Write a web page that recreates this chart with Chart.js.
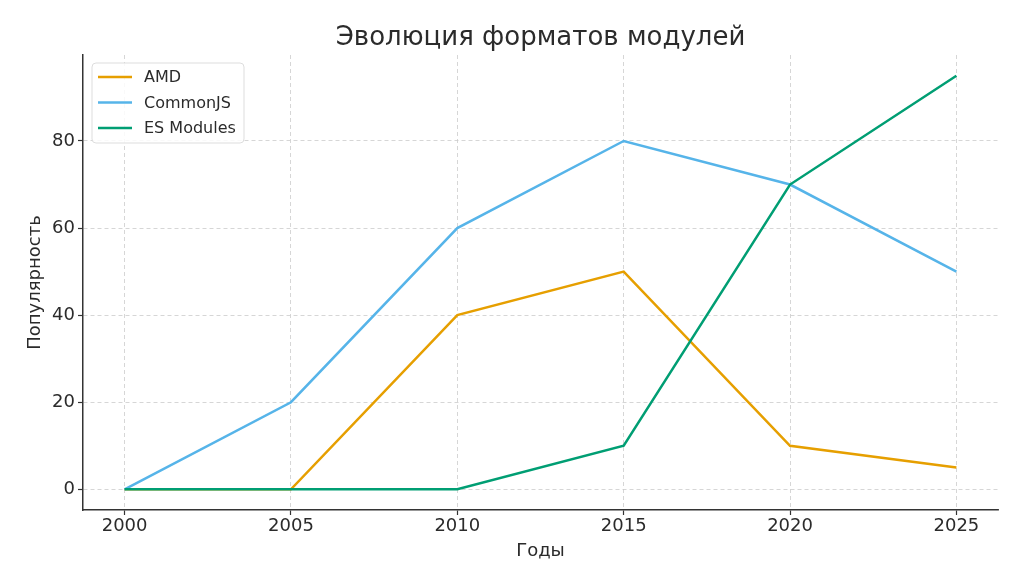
<!DOCTYPE html>
<html>
<head>
<meta charset="utf-8">
<script src="https://cdn.jsdelivr.net/npm/chart.js@4"></script>
<style>
html,body{margin:0;padding:0;background:#fff;}
#wrap{width:1024px;height:588px;position:relative;}
</style>
</head>
<body>
<div id="wrap"><canvas id="c" width="1024" height="588"></canvas></div>
<script>
const years = [2000, 2005, 2010, 2015, 2020, 2025];
const amd = [0, 0, 40, 50, 10, 5];
const commonjs = [0, 20, 60, 80, 70, 50];
const esModules = [0, 0, 0, 10, 70, 95];
const seriesNames = ['AMD', 'CommonJS', 'ES Modules'];
const xTicks = [2000, 2005, 2010, 2015, 2020, 2025];
const yTicks = [0, 20, 40, 60, 80];
const titleText = 'Эволюция форматов модулей';
const xLabel = 'Годы';
const yLabel = 'Популярность';

const colors = ['#E69F00', '#56B4E9', '#009E73'];
const FONT = '"DejaVu Sans", sans-serif';
const TXT = '#2b2b2b';

const toPts = arr => arr.map((v, i) => ({x: years[i], y: v}));

const extras = {
  id: 'extras',
  afterDraw(chart) {
    const ctx = chart.ctx;
    const ca = chart.chartArea;
    ctx.save();
    ctx.fillStyle = TXT;
    ctx.textAlign = 'center';
    ctx.textBaseline = 'middle';
    ctx.font = '26px ' + FONT;
    ctx.fillText(titleText, (ca.left + ca.right) / 2, 38);
    ctx.font = '18px ' + FONT;
    ctx.fillText(xLabel, (ca.left + ca.right) / 2, 551);
    ctx.save();
    ctx.translate(35, (ca.top + ca.bottom) / 2);
    ctx.rotate(-Math.PI / 2);
    ctx.fillText(yLabel, 0, 0);
    ctx.restore();
    // legend box
    const bx = ca.left + 9, by = ca.top + 8, bw = 152, bh = 80;
    ctx.beginPath();
    const r = 4;
    ctx.moveTo(bx + r, by);
    ctx.arcTo(bx + bw, by, bx + bw, by + bh, r);
    ctx.arcTo(bx + bw, by + bh, bx, by + bh, r);
    ctx.arcTo(bx, by + bh, bx, by, r);
    ctx.arcTo(bx, by, bx + bw, by, r);
    ctx.closePath();
    ctx.fillStyle = 'rgba(255,255,255,0.85)';
    ctx.fill();
    ctx.strokeStyle = '#dddddd';
    ctx.lineWidth = 1;
    ctx.stroke();
    ctx.font = '16px ' + FONT;
    ctx.textAlign = 'left';
    chart.data.datasets.forEach((ds, i) => {
      const yy = by + 14 + i * 25.5;
      ctx.strokeStyle = ds.borderColor;
      ctx.lineWidth = 2.5;
      ctx.beginPath();
      ctx.moveTo(bx + 6, yy);
      ctx.lineTo(bx + 40, yy);
      ctx.stroke();
      ctx.fillStyle = TXT;
      ctx.fillText(ds.label, bx + 52, yy + 1);
    });
    ctx.restore();
  }
};

new Chart(document.getElementById('c'), {
  type: 'line',
  data: {
    datasets: [
      {label: seriesNames[0], data: toPts(amd), borderColor: colors[0], backgroundColor: colors[0], order: 3},
      {label: seriesNames[1], data: toPts(commonjs), borderColor: colors[1], backgroundColor: colors[1], order: 2},
      {label: seriesNames[2], data: toPts(esModules), borderColor: colors[2], backgroundColor: colors[2], order: 1}
    ]
  },
  options: {
    responsive: false,
    animation: false,
    devicePixelRatio: 1,
    layout: {padding: {top: 55, right: 26, left: 0, bottom: 0}},
    elements: {
      line: {borderWidth: 2.5, tension: 0},
      point: {radius: 0, hoverRadius: 0}
    },
    plugins: {legend: {display: false}, title: {display: false}, tooltip: {enabled: false}},
    scales: {
      x: {
        type: 'linear',
        min: 1998.75,
        max: 2026.25,
        afterBuildTicks: s => { s.ticks = xTicks.map(v => ({value: v})); },
        afterFit: s => { s.height = 78; },
        ticks: {color: TXT, font: {family: FONT, size: 18}, padding: 1, maxRotation: 0,
                callback: v => String(v)},
        grid: {color: '#cccccc', lineWidth: 0.8, tickLength: 5, tickColor: '#333333', tickWidth: 1.2, tickBorderDash: []},
        border: {display: true, color: '#333333', width: 1.5, dash: [4, 3]}
      },
      y: {
        type: 'linear',
        min: -4.75,
        max: 99.75,
        afterBuildTicks: s => { s.ticks = yTicks.map(v => ({value: v})); },
        afterFit: s => { s.width = 83; },
        ticks: {color: TXT, font: {family: FONT, size: 18}, padding: 3,
                callback: v => String(v)},
        grid: {color: '#cccccc', lineWidth: 0.8, tickLength: 5, tickColor: '#333333', tickWidth: 1.2, tickBorderDash: []},
        border: {display: true, color: '#333333', width: 1.5, dash: [4, 3]}
      }
    }
  },
  plugins: [extras]
});
</script>
</body>
</html>
